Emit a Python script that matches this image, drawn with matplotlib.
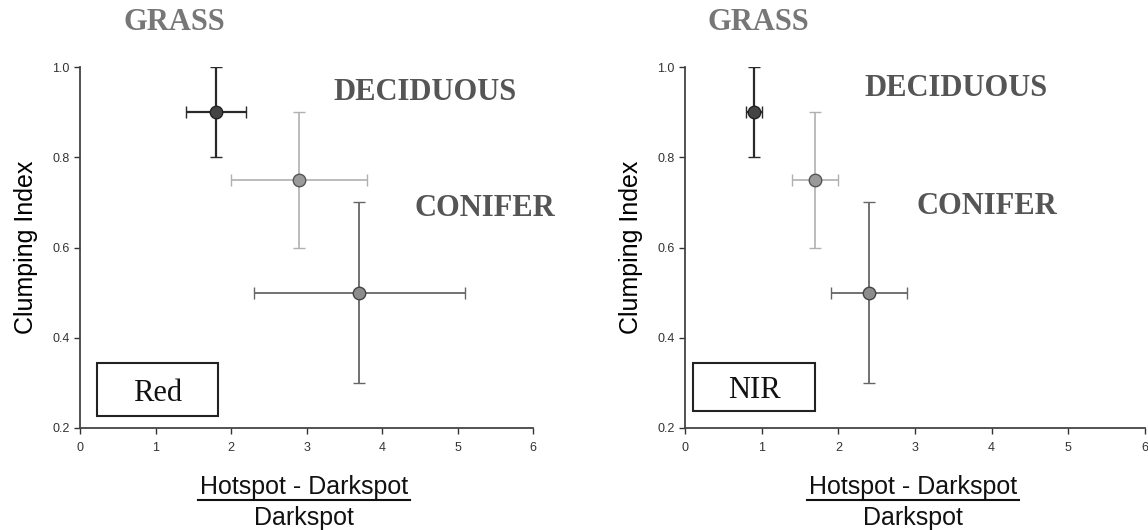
import matplotlib
matplotlib.use("Agg")
import matplotlib.pyplot as plt
from matplotlib.lines import Line2D

# Valeurs
classes = ["GRASS", "DECIDUOUS", "CONIFER"]
clumping = [0.9, 0.75, 0.5]
clumping_err = [0.1, 0.15, 0.2]

red_x = [1.8, 2.9, 3.7]
red_xerr = [0.4, 0.9, 1.4]

nir_x = [0.9, 1.7, 2.4]
nir_xerr = [0.1, 0.3, 0.5]

bandes = ["Red", "NIR"]
xticks = [0, 1, 2, 3, 4, 5, 6]
yticks = [0.2, 0.4, 0.6, 0.8, 1.0]

# styles par classe : couleur des barres, remplissage, bord, épaisseur
styles = {
    "GRASS": ("#2a2a2a", "#444444", "#222222", 1.6),
    "DECIDUOUS": ("#b0b0b0", "#9a9a9a", "#555555", 1.2),
    "CONIFER": ("#666666", "#8c8c8c", "#444444", 1.3),
}

plt.rcParams['font.family'] = ['Liberation Sans', 'DejaVu Sans']
fig = plt.figure(figsize=(11.48, 5.30), dpi=100)

axes_pos = [[0.0697, 0.1925, 0.3946, 0.681], [0.5967, 0.1925, 0.4007, 0.681]]
donnees = [(red_x, red_xerr), (nir_x, nir_xerr)]
# positions des étiquettes de classe (coordonnées figure, en pixels)
etiquettes = [
    {"GRASS": (174, 22), "DECIDUOUS": (425, 92), "CONIFER": (485, 208)},
    {"GRASS": (758, 22), "DECIDUOUS": (956, 88), "CONIFER": (987, 206)},
]
boites = [(0.23, 0.227, 1.60, 0.117), (0.10, 0.238, 1.60, 0.106)]
label_col = {"GRASS": "#777777", "DECIDUOUS": "#555555", "CONIFER": "#555555"}

for i, pos in enumerate(axes_pos):
    ax = fig.add_axes(pos)
    xs, xerrs = donnees[i]
    for j, c in enumerate(classes):
        ecol, fcol, mecol, lw = styles[c]
        ax.errorbar(xs[j], clumping[j], xerr=xerrs[j], yerr=clumping_err[j],
                    fmt='o', color=ecol, ecolor=ecol, elinewidth=lw,
                    capsize=4.5, capthick=lw, markersize=9,
                    markerfacecolor=fcol, markeredgecolor=mecol,
                    markeredgewidth=1.0, zorder=3)
    ax.set_xlim(0, 6)
    ax.set_ylim(0.2, 1.0)
    ax.set_xticks(xticks)
    ax.set_yticks(yticks)
    ax.set_yticklabels(["%.1f" % v for v in yticks])
    ax.tick_params(direction='out', length=4, width=1, labelsize=9,
                   colors='#333333')
    ax.tick_params(axis='x', pad=6)
    for s in ['top', 'right']:
        ax.spines[s].set_visible(False)
    for s in ['left', 'bottom']:
        ax.spines[s].set_color('#444444')
        ax.spines[s].set_linewidth(1.3)
    ax.set_ylabel("Clumping Index", fontsize=18, labelpad=10)

    # boîte de la bande
    bx, by, bw, bh = boites[i]
    rect = plt.Rectangle((bx, by), bw, bh, fill=False, edgecolor='#222222',
                         linewidth=1.5, zorder=2)
    ax.add_patch(rect)
    ax.text(bx + bw / 2, by + bh * 0.42, bandes[i], ha='center', va='center',
            fontsize=22, family='Liberation Serif', color='#111111')

    # étiquettes des classes
    for c in classes:
        px, py = etiquettes[i][c]
        fig.text(px / 1148, 1 - py / 530, c, ha='center', va='center',
                 fontsize=22, fontweight='bold', family='Liberation Serif',
                 color=label_col[c])

    # titre de l'axe x sous forme de fraction
    xc = (pos[0] + pos[2] / 2) - 0.002
    fig.text(xc, 1 - 487 / 530, "Hotspot - Darkspot", ha='center',
             va='center', fontsize=18, color='#111111')
    fig.text(xc, 1 - 518 / 530, "Darkspot", ha='center', va='center',
             fontsize=18, color='#111111')
    demi = 106 / 1148
    fig.add_artist(Line2D([xc - demi, xc + demi], [1 - 500 / 530] * 2,
                          transform=fig.transFigure, color='#111111', lw=1.5))

fig.savefig("out.png", dpi=100)
